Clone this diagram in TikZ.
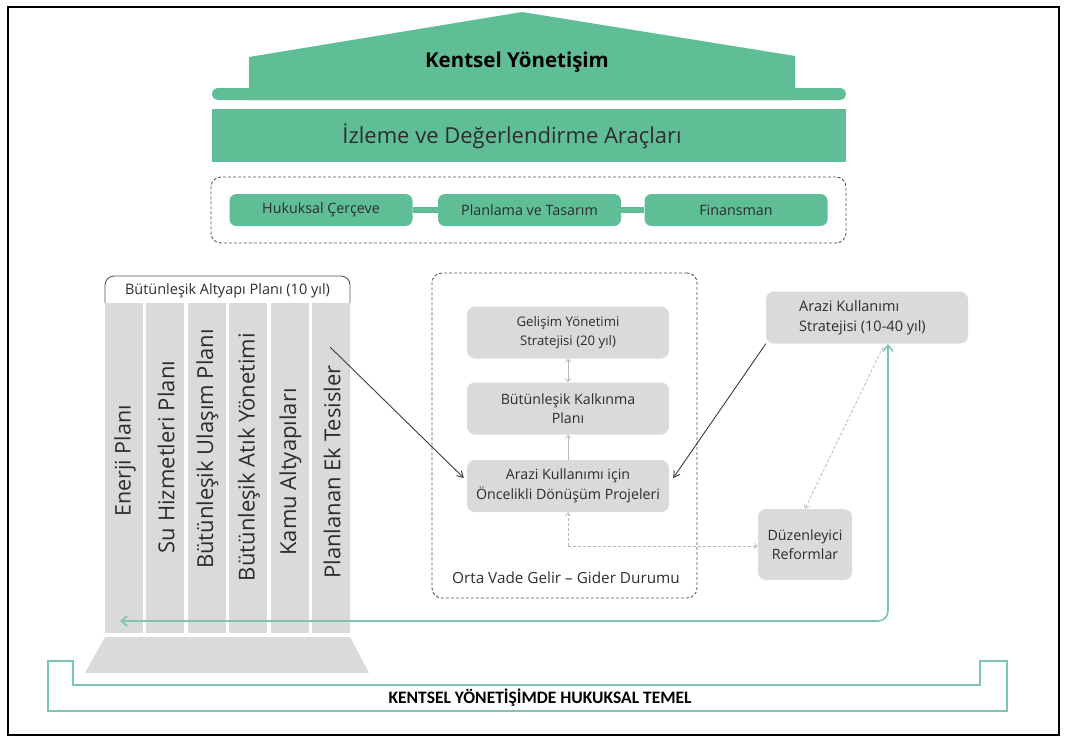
\documentclass[tikz,border=0pt]{standalone}
\usepackage{fontspec}
\setmainfont{Open Sans}
\newfontfamily\cfont{Carlito}
\usetikzlibrary{arrows.meta,calc}
\definecolor{grn}{RGB}{95,190,150}
\definecolor{tealline}{RGB}{125,198,172}
\definecolor{boxgray}{RGB}{218,218,218}
\definecolor{txt}{RGB}{45,45,45}
\definecolor{dashgray}{RGB}{85,85,85}
\definecolor{lightarr}{RGB}{185,185,185}
\definecolor{darkarr}{RGB}{60,60,60}
\begin{document}
\begin{tikzpicture}[x=1pt,y=-1pt,
  pill/.style={fill=grn, rounded corners=7pt, minimum width=183pt, minimum height=32pt, inner sep=0pt, text=txt, font=\fontsize{14.3}{17}\selectfont},
  gbox/.style={fill=boxgray, rounded corners=8pt, minimum width=202pt, minimum height=52pt, inner sep=0pt, align=center, text=txt, font=\fontsize{14.2}{19.5}\selectfont},
  plainbox/.style={fill=boxgray, rounded corners=8pt, inner sep=0pt},
  coltext/.style={rotate=90, text=txt, font=\fontsize{22}{26}\selectfont},
  darrow/.style={darkarr, line width=0.9pt, -{Straight Barb[length=6pt,width=7pt]}},
  larrow/.style={lightarr, line width=0.8pt},
  ldash/.style={lightarr, line width=0.8pt, dashed, dash pattern=on 3pt off 2pt},
]
\useasboundingbox (0,0) rectangle (1067,742);
% outer frame
\draw[black, line width=1.3pt] (8,7) rectangle (1059,735);

% roof
\fill[grn] (249,100) -- (249,57) -- (522,12) -- (795,56) -- (795,100) -- cycle;
\fill[grn, rounded corners=5.5pt] (212,88) rectangle (846,100);
\node[font=\bfseries\fontsize{20.5}{24}\selectfont, text=black] (roof) at (517,62) {Kentsel Yönetişim};

% band
\node[fill=grn, minimum width=634pt, minimum height=53pt, inner sep=0pt] (band) at (529,135.5) {};
\node[text=txt, font=\fontsize{22}{26}\selectfont] (bandtext) at (512,136) {İzleme ve Değerlendirme Araçları};

% dashed frame with pills
\node[draw=dashgray, dashed, dash pattern=on 3pt off 2pt, line width=0.9pt, rounded corners=10pt, minimum width=635pt, minimum height=66pt] (tools) at (528.5,210) {};
\node[pill] (p1) at (321,210) {Hukuksal Çerçeve};
\node[pill] (p2) at (529.5,210) {Planlama ve Tasarım};
\node[pill] (p3) at (736,210) {Finansman};
\draw[grn, line width=6pt] (p1) -- (p2);
\draw[grn, line width=6pt] (p2) -- (p3);

% left pillar
\draw[dashgray, line width=0.9pt, rounded corners=9pt] (105,303) -- (105,276) -- (350,276) -- (350,303);
\node[text=txt, font=\fontsize{14.5}{17}\selectfont] (bap) at (227.5,291) {Bütünleşik Altyapı Planı (10 yıl)};
\foreach \i in {0,...,5}{
  \fill[boxgray] ({105+\i*41.4},303) rectangle ({143+\i*41.4},633);
}
\node[coltext, font=\fontsize{21.5}{26}\selectfont] (c1) at (125,461) {Enerji Planı};
\node[coltext] (c2) at (166,457) {Su Hizmetleri Planı};
\node[coltext] (c3) at (207.5,449) {Bütünleşik Ulaşım Planı};
\node[coltext] (c4) at (249,457) {Bütünleşik Atık Yönetimi};
\node[coltext] (c5) at (290.5,472) {Kamu Altyapıları};
\node[coltext] (c6) at (332,472) {Planlanan Ek Tesisler};
\fill[boxgray] (105,637) -- (350,637) -- (369,673) -- (85,673) -- cycle;

% bottom bracket
\draw[tealline, line width=1.6pt] (48,661) -- (48,711) -- (1007,711) -- (1007,661) -- (980,661) -- (980,685) -- (73,685) -- (73,661) -- cycle;
\node[font=\cfont\bfseries\fontsize{17.5}{20}\selectfont, text=black] (base) at (540,698) {KENTSEL YÖNETİŞİMDE HUKUKSAL TEMEL};

% middle dashed frame
\node[draw=dashgray, dashed, dash pattern=on 3pt off 2pt, line width=0.9pt, rounded corners=10pt, minimum width=265pt, minimum height=325pt] (mid) at (564.5,435.5) {};
\node[gbox, font=\fontsize{13.2}{19.5}\selectfont] (b1) at (568,332.5) {Gelişim Yönetimi\\Stratejisi (20 yıl)};
\node[gbox] (b2) at (568,408.5) {Bütünleşik Kalkınma\\Planı};
\node[gbox] (b3) at (568,486) {Arazi Kullanımı için\\Öncelikli Dönüşüm Projeleri};
\node[text=txt, font=\fontsize{15.3}{18}\selectfont] (orta) at (566,578) {Orta Vade Gelir – Gider Durumu};

% right boxes
\node[plainbox, minimum width=202pt, minimum height=52pt] (arazi) at (867,317.5) {};
\node[anchor=west, align=left, inner sep=0pt, text=txt, font=\fontsize{14.5}{20}\selectfont] (araziT) at (799,318) {Arazi Kullanımı\\Stratejisi (10-40 yıl)};
\node[gbox, minimum width=94pt, minimum height=71pt] (duz) at (805,544.5) {Düzenleyici\\Reformlar};

% arrows
\draw[larrow, {Straight Barb[length=3pt,width=5pt]}-{Straight Barb[length=3pt,width=5pt]}] (b1) -- (b2);
\draw[larrow, -{Straight Barb[length=3pt,width=5pt]}] (b3) -- (b2);
\coordinate (dj) at (568,546);
\draw[ldash, -{Straight Barb[length=3pt,width=5pt]}] (dj) -- (b3.south);
\draw[ldash, -{Straight Barb[length=3pt,width=5pt]}] (dj) -- (dj -| duz.west);
\coordinate (az) at (883,347);
\draw[ldash, -{Straight Barb[length=3pt,width=5pt]}] (az) -- (duz.north);
\coordinate (ps) at (330,347);
\coordinate (b3l) at ($(b3.west)+(-3,-8)$);
\coordinate (b3r) at ($(b3.east)+(4,-8)$);
\draw[darrow] (ps) -- (b3l);
\draw[darrow] (arazi.south west) -- (b3r);
\coordinate (gl) at (120,621);
\coordinate (ga) at (888,344);
\draw[tealline, line width=1.6pt, rounded corners=10pt, {Straight Barb[length=6pt,width=10pt]}-{Straight Barb[length=6pt,width=10pt]}] (gl) -| (ga);
\end{tikzpicture}
\end{document}
